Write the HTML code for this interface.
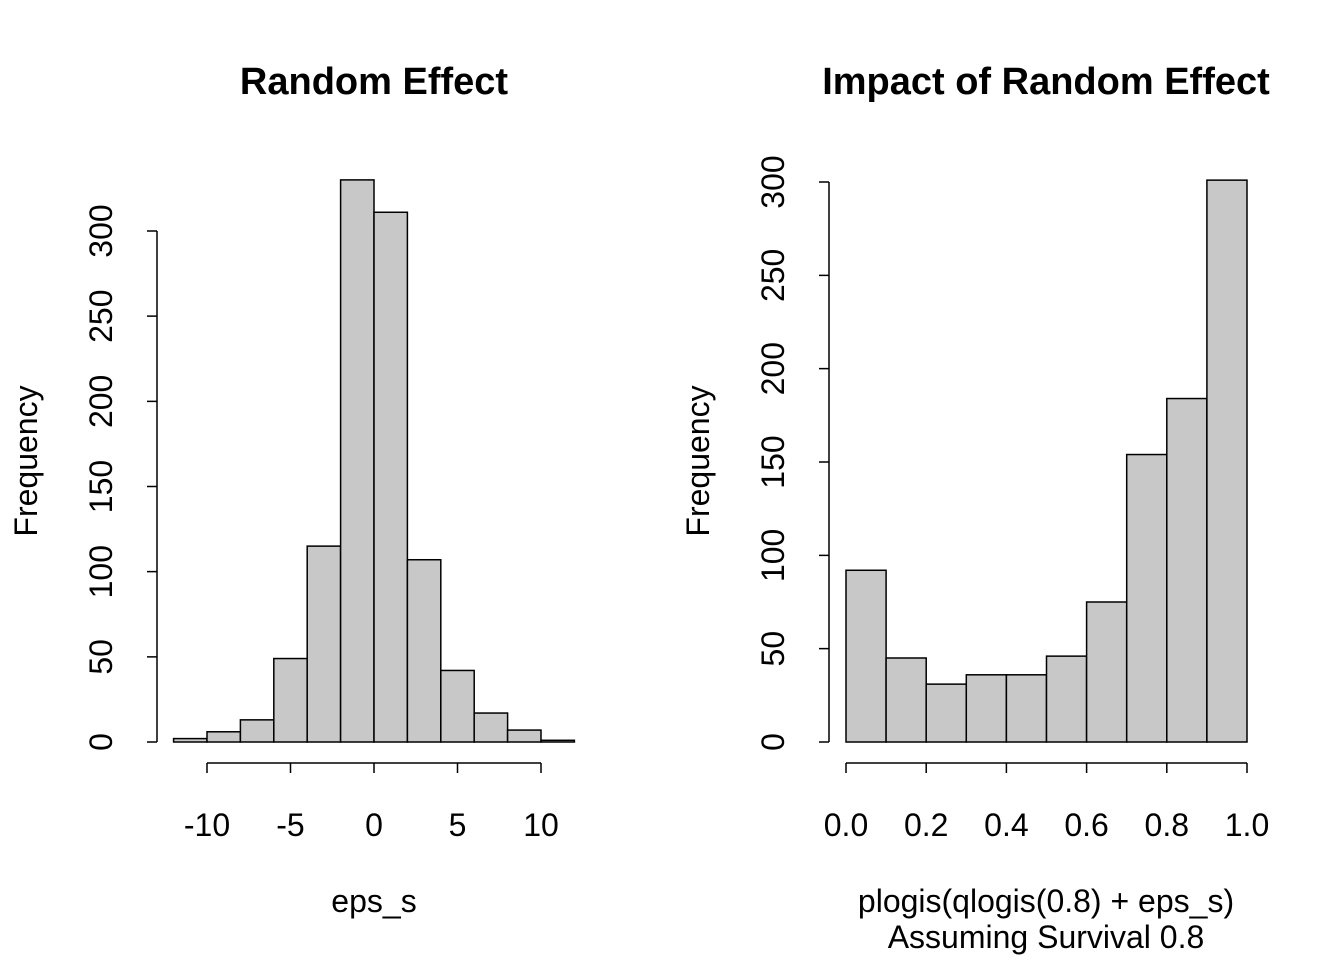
<!DOCTYPE html>
<html><head><meta charset="utf-8"><style>
body{margin:0;background:#fff}
svg text{font-family:"Liberation Sans",Arial,sans-serif;fill:#000}
</style></head><body>
<svg id="s" width="1344" height="960" xmlns="http://www.w3.org/2000/svg">
<g id="L"></g>
<g id="R"></g>
<text x="374" y="94" text-anchor="middle" font-size="38" font-weight="bold">Random Effect</text>
<text x="1046" y="94" text-anchor="middle" font-size="38" font-weight="bold">Impact of Random Effect</text>
<text x="374" y="912" text-anchor="middle" font-size="32">eps_s</text>
<text x="1046" y="912" text-anchor="middle" font-size="32">plogis(qlogis(0.8) + eps_s)</text>
<text x="1046" y="948" text-anchor="middle" font-size="32">Assuming Survival 0.8</text>
<text x="37" y="461" text-anchor="middle" font-size="32" transform="rotate(-90 37 461)">Frequency</text>
<text x="709" y="461" text-anchor="middle" font-size="32" transform="rotate(-90 709 461)">Frequency</text>
</svg>
<script>
const leftBreaks=[-12,-10,-8,-6,-4,-2,0,2,4,6,8,10,12];
const leftCounts=[2,6,13,49,115,330,311,107,42,17,7,1];
const leftXTicks=[-10,-5,0,5,10];
const leftYTicks=[0,50,100,150,200,250,300];
const rightBreaks=[0,0.1,0.2,0.3,0.4,0.5,0.6,0.7,0.8,0.9,1.0];
const rightCounts=[92,45,31,36,36,46,75,154,184,301];
const rightXTicks=["0.0","0.2","0.4","0.6","0.8","1.0"];
const rightYTicks=[0,50,100,150,200,250,300];
const NS="http://www.w3.org/2000/svg";
function mk(p,t,a){const e=document.createElementNS(NS,t);for(const k in a)e.setAttribute(k,a[k]);p.appendChild(e);return e;}
function panel(g,cfg){
  const sx=v=>cfg.x0+(v-cfg.xa)/(cfg.xb-cfg.xa)*(cfg.x1-cfg.x0);
  const sy=v=>cfg.yBase-v*cfg.ypu;
  for(let i=0;i<cfg.counts.length;i++){
    const x=sx(cfg.breaks[i]),x2=sx(cfg.breaks[i+1]),y=sy(cfg.counts[i]);
    const r=mk(g,'rect',{x:x,y:y,width:x2-x,height:cfg.yBase-y,fill:'#c8c8c8',stroke:'#000','stroke-width':1.5});
    
    
  }
  const xt=cfg.xticks.map(Number);
  const xa=mk(g,'path',{d:`M${sx(xt[0])},763H${sx(xt[xt.length-1])}`+xt.map(v=>`M${sx(v)},763V773`).join(''),stroke:'#000','stroke-width':1.5,fill:'none'});
  
  
  cfg.xticks.forEach(v=>{const t=mk(g,'text',{x:sx(Number(v)),y:836,'text-anchor':'middle','font-size':32});t.textContent=v;
    
    });
  const yt=cfg.yticks;
  const ya=mk(g,'path',{d:`M${cfg.yAxisX},${sy(yt[0])}V${sy(yt[yt.length-1])}`+yt.map(v=>`M${cfg.yAxisX},${sy(v)}h-10`).join(''),stroke:'#000','stroke-width':1.5,fill:'none'});
  
  
  yt.forEach(v=>{const X=cfg.yAxisX-45,Y=sy(v);const t=mk(g,'text',{x:X,y:Y,'text-anchor':'middle','font-size':32,transform:`rotate(-90 ${X} ${Y})`});t.textContent=v;
    
    });
}
panel(document.getElementById('L'),{breaks:leftBreaks,counts:leftCounts,xticks:leftXTicks,yticks:leftYTicks,xa:0,xb:10,x0:374,x1:541,yBase:742,ypu:511/300,yAxisX:157});
panel(document.getElementById('R'),{breaks:rightBreaks,counts:rightCounts,xticks:rightXTicks,yticks:rightYTicks,xa:0,xb:1,x0:846,x1:1247,yBase:742,ypu:560/300,yAxisX:829});
</script>
</body></html>
